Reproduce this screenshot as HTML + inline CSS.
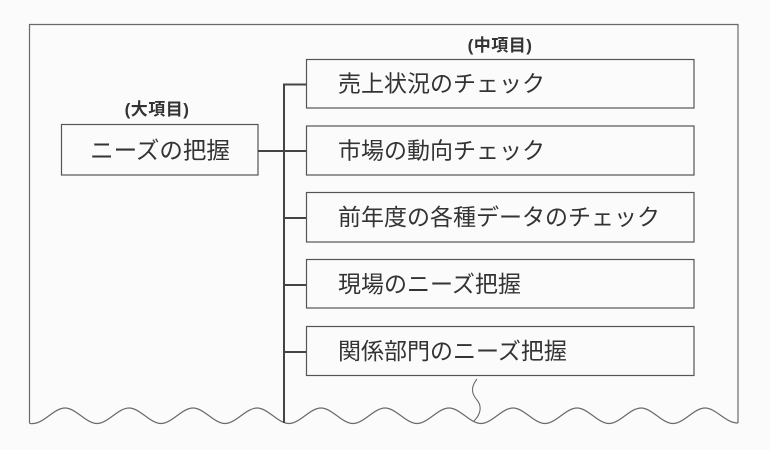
<!DOCTYPE html>
<html>
<head>
<meta charset="utf-8">
<style>
  html, body { margin: 0; padding: 0; background: #fbfbfb; }
  svg { display: block; }
  text { font-family: "Liberation Sans", "Noto Sans CJK JP", sans-serif; fill: #333; }
</style>
</head>
<body>
<svg width="770" height="450" viewBox="0 0 770 450" xmlns="http://www.w3.org/2000/svg">
  <rect x="0" y="0" width="770" height="450" fill="#fbfbfb"/>

  <!-- Outer frame with wavy bottom -->
  <path d="M29.5,423 L29.5,24.5 L738,24.5 L738,423" fill="none" stroke="#6a6a6a" stroke-width="1.2"/>
  <path d="M29.5,423 Q30,424 33,423.5
           C44,423.5 54,408 65,408 C76,408 86,423.5 97,423.5
           C108,423.5 118,408 129,408 C140,408 150,423.5 161,423.5
           C172,423.5 182,408 193,408 C204,408 214,423.5 225,423.5
           C236,423.5 246,408 257,408 C268,408 278,423.5 289,423.5
           C300,423.5 310,408 321,408 C332,408 342,423.5 353,423.5
           C364,423.5 374,408 385,408 C396,408 406,423.5 417,423.5
           C428,423.5 438,408 449,408 C460,408 470,423.5 481,423.5
           C492,423.5 502,408 513,408 C524,408 534,423.5 545,423.5
           C556,423.5 566,408 577,408 C588,408 598,423.5 609,423.5
           C620,423.5 630,408 641,408 C652,408 662,423.5 673,423.5
           C684,423.5 694,408 705,408 C716,408 726,423.5 738,423"
        fill="none" stroke="#6a6a6a" stroke-width="1.2"/>

  <!-- squiggle under last box -->
  <path d="M477,379 C470,388 472,394 477,400 C482,406 481,414 474,421" fill="none" stroke="#6a6a6a" stroke-width="1.1"/>

  <!-- Labels -->
  <text x="157" y="115" font-size="17" font-weight="bold" text-anchor="middle" letter-spacing="0.5">(大項目)</text>
  <text x="500" y="51" font-size="17" font-weight="bold" text-anchor="middle" letter-spacing="0.5">(中項目)</text>

  <!-- Main box -->
  <rect x="61.5" y="124.5" width="196.5" height="50.5" fill="none" stroke="#555" stroke-width="1.2"/>
  <text x="160" y="158.5" font-size="23.5" text-anchor="middle">ニーズの把握</text>

  <!-- Connectors -->
  <line x1="258" y1="151" x2="284" y2="151" stroke="#444" stroke-width="2"/>
  <line x1="284" y1="83.5" x2="284" y2="423" stroke="#444" stroke-width="2"/>
  <line x1="284" y1="84.5" x2="306" y2="84.5" stroke="#444" stroke-width="2"/>
  <line x1="284" y1="151" x2="306" y2="151" stroke="#444" stroke-width="2"/>
  <line x1="284" y1="218" x2="306" y2="218" stroke="#444" stroke-width="2"/>
  <line x1="284" y1="285" x2="306" y2="285" stroke="#444" stroke-width="2"/>
  <line x1="284" y1="352" x2="306" y2="352" stroke="#444" stroke-width="2"/>

  <!-- Child boxes -->
  <rect x="306.5" y="59.5" width="387.5" height="48.5" fill="none" stroke="#555" stroke-width="1.2"/>
  <rect x="306.5" y="126" width="387.5" height="49" fill="none" stroke="#555" stroke-width="1.2"/>
  <rect x="306.5" y="192.5" width="387.5" height="49.5" fill="none" stroke="#555" stroke-width="1.2"/>
  <rect x="306.5" y="259.5" width="387.5" height="48.5" fill="none" stroke="#555" stroke-width="1.2"/>
  <rect x="306.5" y="326.5" width="387.5" height="49" fill="none" stroke="#555" stroke-width="1.2"/>

  <text x="338" y="91.5" font-size="23">売上状況のチェック</text>
  <text x="338" y="158.5" font-size="23">市場の動向チェック</text>
  <text x="338" y="225" font-size="23">前年度の各種データのチェック</text>
  <text x="338" y="292" font-size="23">現場のニーズ把握</text>
  <text x="338" y="359" font-size="23">関係部門のニーズ把握</text>
</svg>
</body>
</html>
